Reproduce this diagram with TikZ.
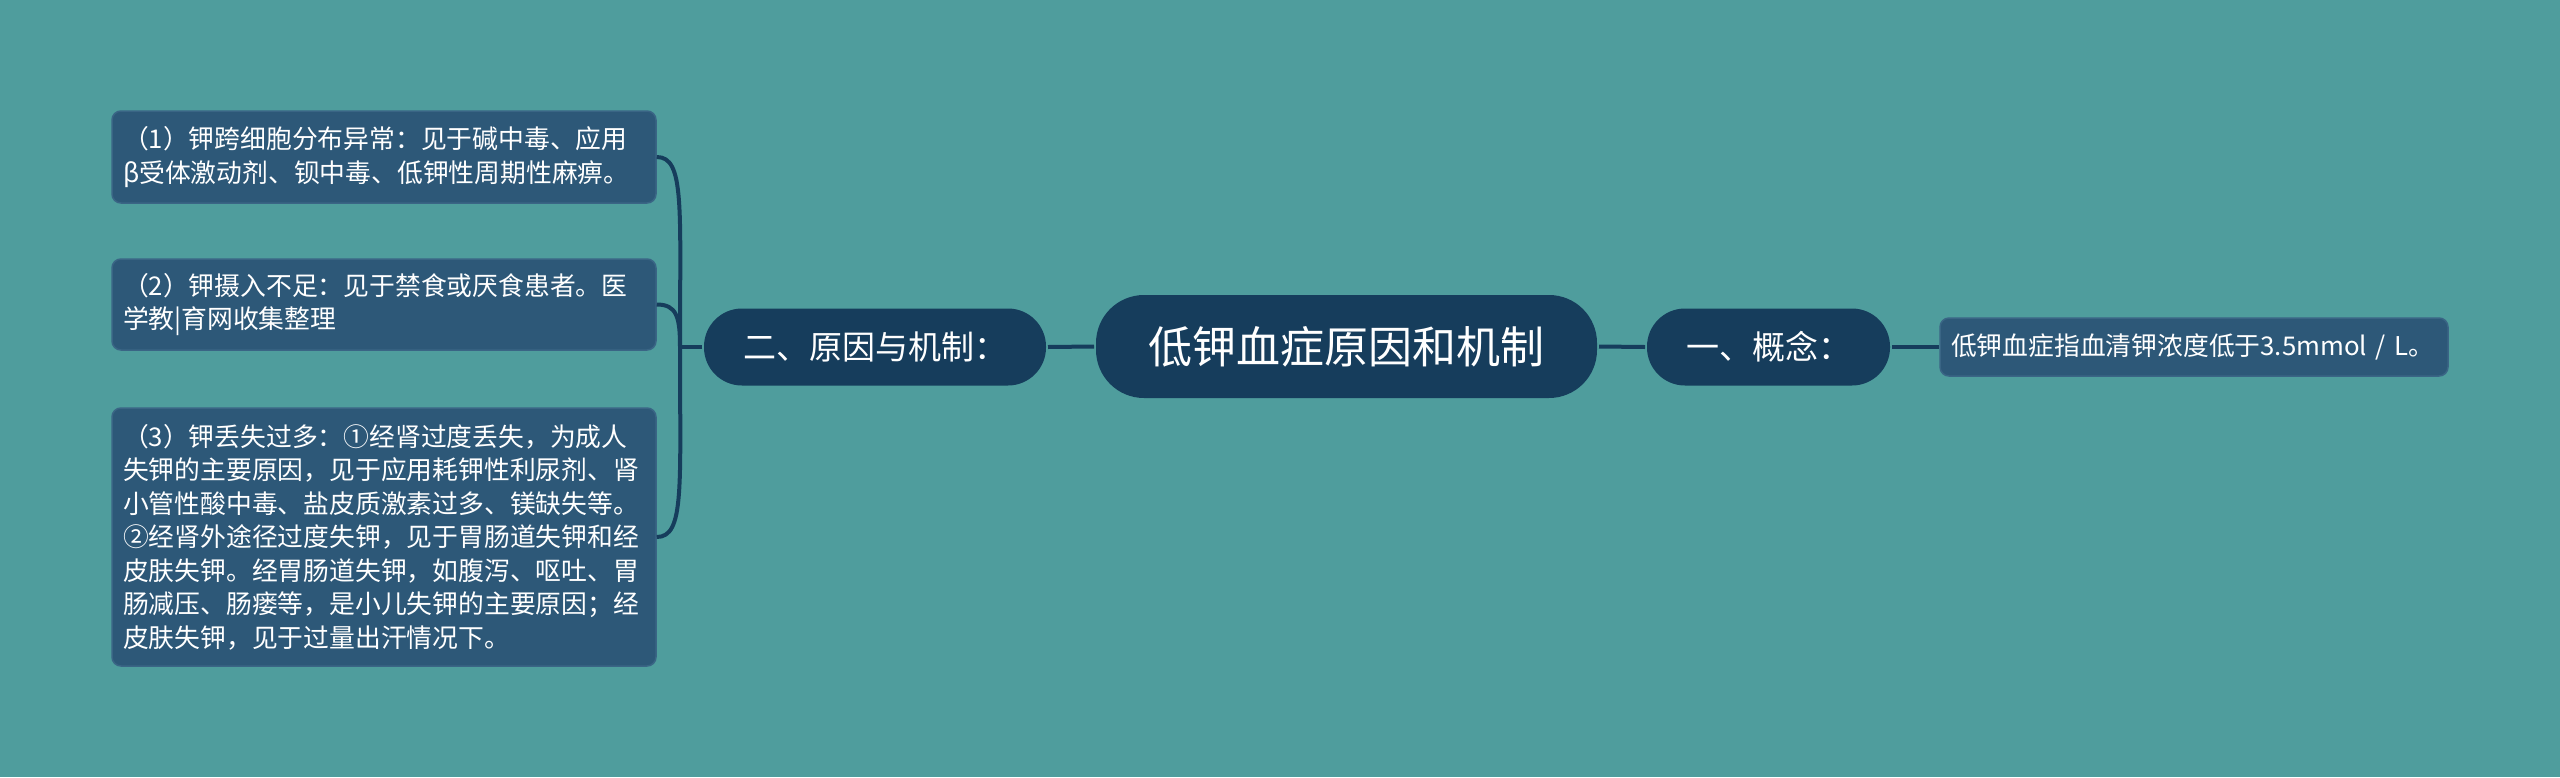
\documentclass[tikz,border=0pt]{standalone}
\usepackage{fontspec}
\setmainfont{Noto Sans CJK SC}
\definecolor{bgteal}{RGB}{79,157,157}
\definecolor{rootblue}{RGB}{22,61,92}
\definecolor{leafblue}{RGB}{45,88,120}
\definecolor{leafedge}{RGB}{58,101,133}
\tikzset{every picture/.style={line width=4pt}}
\tikzset{
  rootbox/.style={fill=rootblue,text=white,rounded corners=48pt,minimum width=501pt,minimum height=103pt,inner sep=0pt,font=\fontsize{44}{52}\selectfont},
  topicbox/.style={fill=rootblue,text=white,rounded corners=38pt,minimum height=77pt,inner sep=0pt,font=\fontsize{33}{40}\selectfont},
  leafbox/.style={fill=leafblue,draw=leafedge,line width=1.5pt,text=white,rounded corners=9pt,inner xsep=11pt,inner ysep=0pt,align=left,font=\fontsize{25.8}{33.5}\selectfont},
  link/.style={draw=rootblue,line width=4pt},
}

\begin{document}
\begin{tikzpicture}[x=1pt,y=1pt,yscale=-1,xscale=1]
%Background
\fill[bgteal] (0,0) rectangle (2560,777);
\useasboundingbox (0,0) rectangle (2560,777);

%Shape: Root
\node[rootbox] (root) at (1346.5,346.5) {低钾血症原因和机制};
%Shape: Topic left
\node[topicbox,minimum width=342pt] (cause) at (875,347) {二、原因与机制：};
%Shape: Topic right
\node[topicbox,minimum width=243pt] (concept) at (1768.5,347) {一、概念：};

%Shape: Leaf right
\node[leafbox,text width=486pt,minimum height=58pt] (def) at (2194,347) {低钾血症指血清钾浓度低于3.5mmol / L。};

%Shape: Leaves left
\node[leafbox,text width=522pt,minimum height=92pt] (shift) at (384,157)
  {（1）钾跨细胞分布异常：见于碱中毒、应用\\β受体激动剂、钡中毒、低钾性周期性麻痹。};
\node[leafbox,text width=522pt,minimum height=91pt] (intake) at (384,304.5)
  {（2）钾摄入不足：见于禁食或厌食患者。医\\学教|育网收集整理};
\node[leafbox,text width=522pt,minimum height=258pt] (loss) at (384,537)
  {（3）钾丢失过多：①经肾过度丢失，为成人\\失钾的主要原因，见于应用耗钾性利尿剂、肾\\小管性酸中毒、盐皮质激素过多、镁缺失等。\\②经肾外途径过度失钾，见于胃肠道失钾和经\\皮肤失钾。经胃肠道失钾，如腹泻、呕吐、胃\\肠减压、肠瘘等，是小儿失钾的主要原因；经\\皮肤失钾，见于过量出汗情况下。};

%Straight Lines
\draw[link] (root.west) -- (cause.east);
\draw[link] (root.east) -- (concept.west);
\draw[link] (concept.east) -- (def.west);

%Curved Lines
\coordinate (trunk) at (680,347);
\draw[link] (cause.west) -- (trunk);
\draw[link] (trunk) .. controls +(0,-140) and +(28,0) .. (shift.east);
\draw[link] (trunk) .. controls +(0,-30) and +(20,0) .. (intake.east);
\draw[link] (trunk) .. controls +(0,140) and +(28,0) .. (loss.east);
\end{tikzpicture}
\end{document}
